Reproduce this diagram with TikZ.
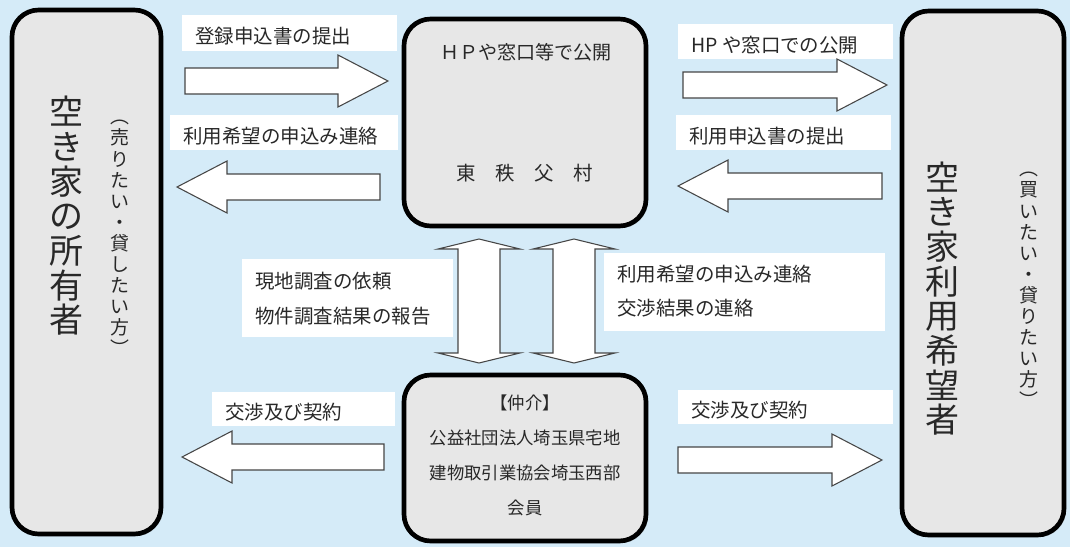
\documentclass[tikz,border=0pt]{standalone}
\usepackage{fontspec}
\usepackage{tikz}
\usetikzlibrary{calc,shadows}
\newfontfamily\jpfont{Noto Sans CJK JP}
\definecolor{skyback}{RGB}{213,235,248}
\definecolor{boxgray}{RGB}{231,231,231}
\definecolor{inkgray}{RGB}{40,40,40}
\definecolor{arrowline}{RGB}{70,70,70}
\tikzset{
	mainbox/.style={draw=black, line width=3.5pt, fill=boxgray, rounded corners=20pt, inner sep=0pt,
		drop shadow={shadow xshift=1.5pt, shadow yshift=-1.5pt, opacity=0.3}},
	blockarrow/.style={draw=arrowline, line width=0.8pt, fill=white, line join=miter},
	tagtext/.style={anchor=west, inner sep=0pt, align=left, text=inkgray,
		font=\jpfont\fontsize{14.6pt}{26pt}\selectfont},
	hubtext/.style={inner sep=0pt, align=center, text=inkgray},
	bigvert/.style={inner sep=0pt, align=center, text=inkgray,
		font=\jpfont\fontsize{25.5pt}{26pt}\selectfont},
	smallvert/.style={inner sep=0pt, align=center, text=inkgray,
		font=\jpfont\fontsize{14.2pt}{15.8pt}\selectfont}
}
% horizontal block arrow: #1 tail, #2 tip
\newcommand*{\blockArrowH}[2]{
	\draw[blockarrow] ($(#1)+(0,-13)$) -- ($(#2)!37.5pt!(#1)+(0,-13)$)
	-- ($(#2)!37.5pt!(#1)+(0,-26)$) -- (#2)
	-- ($(#2)!37.5pt!(#1)+(0,26)$) -- ($(#2)!37.5pt!(#1)+(0,13)$)
	-- ($(#1)+(0,13)$) -- cycle;
}
% vertical block arrow with two heads: #1 top tip, #2 bottom tip
\newcommand*{\blockArrowV}[2]{
	\draw[blockarrow] (#1) -- ($(#1)+(41,10)$) -- ($(#1)+(21,10)$)
	-- ($(#2)+(21,-10)$) -- ($(#2)+(41,-10)$) -- (#2)
	-- ($(#2)+(-41,-10)$) -- ($(#2)+(-21,-10)$)
	-- ($(#1)+(-21,10)$) -- ($(#1)+(-41,10)$) -- cycle;
}
% white label: #1 name, #2-#5 corners, #6 text, #7 shift of the text
\newcommand*{\tagBox}[7]{
	\fill[white] (#2,#3) rectangle (#4,#5);
	\node[tagtext] (#1) at ({#2+13},{(#3+#5)/2+#7}) {#6};
}
\begin{document}
\begin{tikzpicture}[x=0.75pt,y=-0.75pt]
		\useasboundingbox (0,0) rectangle (1070,547);
		\fill[skyback] (0,0) rectangle (1070,547);
		
		% arrow ends
		\coordinate (a1t) at (185,81);
		\coordinate (a1h) at (388,81);
		\coordinate (a2t) at (380,187);
		\coordinate (a2h) at (177,187);
		\coordinate (a3t) at (683,85);
		\coordinate (a3h) at (887,85);
		\coordinate (a4t) at (882,186);
		\coordinate (a4h) at (678,186);
		\coordinate (a5t) at (384,457);
		\coordinate (a5h) at (182,457);
		\coordinate (a6t) at (678,460);
		\coordinate (a6h) at (882,460);
		\coordinate (v1u) at (479,239);
		\coordinate (v1d) at (479,363);
		\coordinate (v2u) at (574,239);
		\coordinate (v2d) at (574,363);
		
		% the boxes
		\node[mainbox, minimum width=111.75pt, minimum height=393pt] (owner) at (86.5,272) {};
		\node[mainbox, minimum width=121.5pt, minimum height=393pt] (user) at (983,273) {};
		\node[mainbox, minimum width=181.5pt, minimum height=155.25pt] (hub) at (525,122.5) {};
		\node[mainbox, minimum width=181.5pt, minimum height=124.5pt] (broker) at (525,458) {};
		
		% texts in the boxes
		\node[bigvert] (ownername) at (66,216) {空\\き\\家\\の\\所\\有\\者};
		\node[smallvert] (ownernote) at (120,238) {︵\\売\\り\\た\\い\\・\\貸\\し\\た\\い\\方\\︶};
		\node[bigvert] (username) at (942,298.5) {空\\き\\家\\利\\用\\希\\望\\者};
		\node[smallvert] (usernote) at (1029,290) {︵\\買\\い\\た\\い\\・\\貸\\り\\た\\い\\方\\︶};
		\node[hubtext, font=\jpfont\fontsize{14.3pt}{16pt}\selectfont] (hubweb) at (526,52) {ＨＰや窓口等で公開};
		\node[hubtext, font=\jpfont\fontsize{14.6pt}{16pt}\selectfont] (hubname) at (525,173) {東　秩　父　村};
		\node[hubtext, font=\jpfont\fontsize{13pt}{26.2pt}\selectfont] (brokername) at (525,455.5)
		{【仲介】\\公益社団法人埼玉県宅地\\建物取引業協会埼玉西部\\会員};
		
		% labels
		\tagBox{t1}{182}{15}{397}{51}{登録申込書の提出}{3.5}
		\tagBox{t2}{170}{115}{398}{150}{利用希望の申込み連絡}{3.5}
		\tagBox{t3}{678}{24}{893}{59}{HP や窓口での公開}{3.5}
		\tagBox{t4}{676}{115}{891}{150}{利用申込書の提出}{3.5}
		\tagBox{t5}{242}{259}{453}{337}{現地調査の依頼\\物件調査結果の報告}{0.5}
		\tagBox{t6}{604}{253}{885}{331}{利用希望の申込み連絡\\交渉結果の連絡}{-1}
		\tagBox{t7}{212}{392}{395}{426}{交渉及び契約}{3.5}
		\tagBox{t8}{678}{390}{893}{424}{交渉及び契約}{3.5}
		
		% arrows
		\foreach \t/\h in {a1t/a1h,a2t/a2h,a3t/a3h,a4t/a4h,a5t/a5h,a6t/a6h}
		{
			\blockArrowH{\t}{\h}
		}
		\blockArrowV{v1u}{v1d}
		\blockArrowV{v2u}{v2d}
		
	\end{tikzpicture}
\end{document}
